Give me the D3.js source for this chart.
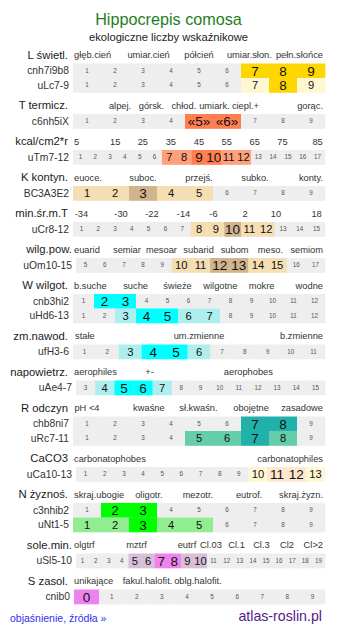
<!DOCTYPE html>
<html>
<head>
<meta charset="utf-8">
<script src="https://cdn.jsdelivr.net/npm/d3@7"></script>
<style>
  html, body { margin: 0; padding: 0; background: #fff; }
  svg { display: block; font-family: "Liberation Sans", Arial, sans-serif; }
</style>
</head>
<body>
<svg id="chart" width="337" height="634"></svg>
<script>
// ---- Species and headings ----
const title = "Hippocrepis comosa";
const subtitle = "ekologiczne liczby wskaźnikowe";
const footerLeft = "objaśnienie, źródła »";
const footerRight = "atlas-roslin.pl";

// ---- Indicator scales: category labels with their position on the value scale ----
const lightLabels = ["głęb.cień", "umiar.cień", "półcień", "umiar.słon.", "pełn.słońce"];
const lightLabelAt = [1, 3.2, 5, 6.8, 9];
const lightRows = [
  { code: "cnh7i9b8", first: 1, last: 9, values: [7, 8, 9], levels: [2, 2, 2] },
  { code: "uLc7-9",   first: 1, last: 9, values: [7, 8, 9], levels: [1, 2, 1] }
];

const thermLabels = ["alpej.", "górsk.", "chłod.", "umiark.", "ciepl.+", "gorąc."];
const thermLabelAt = [2.18, 3.3, 4.46, 5.55, 6.66, 9];
const thermRows = [
  { code: "c6nh5iX", first: 1, last: 9, values: [5, 6], levels: [2, 2], texts: ["«5»", "«6»"] }
];

const kcalLabels = ["5", "15", "25", "35", "45", "55", "65", "75", "85"];
const kcalLabelAt = [0.7, 3.35, 5.21, 7.1, 9.0, 10.87, 12.76, 14.63, 17];
const kcalRows = [
  { code: "uTm7-12", first: 1, last: 17, values: [7, 8, 9, 10, 11, 12], levels: [1, 1, 2, 2, 1, 1] }
];

const contLabels = ["euoce.", "suboc.", "przejś.", "subko.", "konty."];
const contLabelAt = [1, 3, 5, 7, 9];
const contRows = [
  { code: "BC3A3E2", first: 1, last: 9, values: [1, 2, 3, 4, 5], levels: [1, 1, 2, 1, 1] }
];

const minTempLabels = ["-34", "-30", "-22", "-14", "-6", "2", "10", "18"];
const minTempLabelAt = [1, 3.36, 5.2, 7.08, 8.86, 10.74, 12.58, 15];
const minTempRows = [
  { code: "uCr8-12", first: 1, last: 15, values: [8, 9, 10, 11, 12], levels: [1, 1, 2, 1, 1] }
];

const airHumLabels = ["euarid", "semiar", "mesoar", "subarid", "subom", "meso.", "semiom"];
const airHumLabelAt = [5, 7.16, 8.96, 10.9, 12.78, 14.65, 17];
const airHumRows = [
  { code: "uOm10-15", first: 5, last: 17, values: [10, 11, 12, 13, 14, 15], levels: [1, 1, 2, 2, 1, 1] }
];

const moistLabels = ["b.suche", "suche", "świeże", "wilgotne", "mokre", "wodne"];
const moistLabelAt = [1, 3.48, 5.48, 7.52, 9.48, 12];
const moistRows = [
  { code: "cnb3hi2", first: 1, last: 12, values: [2, 3], levels: [2, 2] },
  { code: "uHd6-13", first: 1, last: 12, values: [3, 4, 5, 6, 7], levels: [1, 2, 2, 1, 1] }
];

const varLabels = ["stałe", "um.zmienne", "b.zmienne"];
const varLabelAt = [1.02, 6.0, 11];
const varRows = [
  { code: "ufH3-6", first: 1, last: 11, values: [3, 4, 5, 6], levels: [1, 2, 2, 1] }
];

const aerLabels = ["aerophiles", "+-", "aerophobes"];
const aerLabelAt = [3, 6.34, 11.5];
const aerRows = [
  { code: "uAe4-7", first: 3, last: 15, values: [4, 5, 6, 7], levels: [1, 2, 2, 1] }
];

const phLabels = ["pH <4", "kwaśne", "sł.kwaśn.", "obojętne", "zasadowe"];
const phLabelAt = [1, 3.21, 4.98, 6.86, 9];
const phRows = [
  { code: "chb8ni7", first: 1, last: 9, values: [7, 8], levels: [2, 2] },
  { code: "uRc7-11", first: 1, last: 9, values: [5, 6, 7, 8], levels: [1, 1, 2, 1] }
];

const caLabels = ["carbonatophobes", "carbonatophiles"];
const caLabelAt = [1, 13];
const caRows = [
  { code: "uCa10-13", first: 1, last: 13, values: [10, 11, 12, 13], levels: [1, 2, 2, 1] }
];

const nutLabels = ["skraj.ubogie", "oligotr.", "mezotr.", "eutrof.", "skraj.żyzn."];
const nutLabelAt = [1, 3.21, 4.96, 6.79, 9];
const nutRows = [
  { code: "c3nhib2", first: 1, last: 9, values: [2, 3], levels: [2, 2] },
  { code: "uNt1-5",  first: 1, last: 9, values: [1, 2, 3, 4, 5], levels: [1, 1, 2, 1, 1] }
];

const saltMinLabels = ["olgtrf", "mztrf", "eutrf", "Cl.03", "Cl.1", "Cl.3", "Cl2", "Cl>2"];
const saltMinLabelAt = [1, 5.12, 8.97, 10.8, 12.75, 14.65, 16.6, 19];
const saltMinRows = [
  { code: "uSl5-10", first: 1, last: 19, values: [5, 6, 7, 8, 9, 10], levels: [1, 1, 2, 2, 1, 1] }
];

const salinLabels = ["unikające", "fakul.halofit.", "oblg.halofit."];
const salinLabelAt = [0, 2.43, 4.44];
const salinRows = [
  { code: "cnib0", first: 0, last: 9, values: [0], levels: [2] }
];

// ---- Colour pairs: [strong, weak] ----
const palettes = {
  light:  ["#ffd700", "#fff7d1"],
  therm:  ["#ff7f50", "#ffa07a"],
  cont:   ["#d2b48c", "#f5deb3"],
  water:  ["#00ffff", "#afeeee"],
  ph:     ["#20b2aa", "#66cdaa"],
  ca:     ["#ffe7cf", "#fff6d3"],
  nut:    ["#00ff00", "#90ee90"],
  salt:   ["#ee82ee", "#d8bfd8"]
};

const sections = [
  { name: "L świetl.",   labels: lightLabels,   at: lightLabelAt,   rows: lightRows,   pal: "light" },
  { name: "T termicz.",  labels: thermLabels,   at: thermLabelAt,   rows: thermRows,   pal: "therm" },
  { name: "kcal/cm2*r",  labels: kcalLabels,    at: kcalLabelAt,    rows: kcalRows,    pal: "therm" },
  { name: "K kontyn.",   labels: contLabels,    at: contLabelAt,    rows: contRows,    pal: "cont" },
  { name: "min.śr.m.T",  labels: minTempLabels, at: minTempLabelAt, rows: minTempRows, pal: "cont" },
  { name: "wilg.pow.",   labels: airHumLabels,  at: airHumLabelAt,  rows: airHumRows,  pal: "cont" },
  { name: "W wilgot.",   labels: moistLabels,   at: moistLabelAt,   rows: moistRows,   pal: "water" },
  { name: "zm.nawod.",   labels: varLabels,     at: varLabelAt,     rows: varRows,     pal: "water" },
  { name: "napowietrz.", labels: aerLabels,     at: aerLabelAt,     rows: aerRows,     pal: "water" },
  { name: "R odczyn",    labels: phLabels,      at: phLabelAt,      rows: phRows,      pal: "ph" },
  { name: "CaCO3",       labels: caLabels,      at: caLabelAt,      rows: caRows,      pal: "ca" },
  { name: "N żyznoś.",   labels: nutLabels,     at: nutLabelAt,     rows: nutRows,     pal: "nut" },
  { name: "sole.min.",   labels: saltMinLabels, at: saltMinLabelAt, rows: saltMinRows, pal: "salt" },
  { name: "S zasol.",    labels: salinLabels,   at: salinLabelAt,   rows: salinRows,   pal: "salt" }
];

// ---- Layout ----
const W = 337;
const barRight = 325;
const labelMin = 73, labelMax = 323;
const firstBaseline = 58.5;
const rowGap = 5;            // header baseline to first row
const rowH = 14.5;
const sectionH = 36;         // one-row section height
const gray = "#eeeeee";
const startByCount = { 13: 76, 19: 76, 10: 74 };
const wideHeadings = new Set(["wilg.pow.", "sole.min."]);

const svg = d3.select("#chart");

svg.append("text")
  .attr("x", W / 2).attr("y", 24.5)
  .attr("text-anchor", "middle")
  .attr("font-size", 16.2)
  .attr("fill", "#1e7d1e")
  .text(title);

svg.append("text")
  .attr("x", W / 2).attr("y", 41)
  .attr("text-anchor", "middle")
  .attr("font-size", 11.2)
  .attr("fill", "#222")
  .text(subtitle);

let base = firstBaseline;
sections.forEach(sec => {
  const g = svg.append("g");
  const r0 = sec.rows[0];
  const n0 = r0.last - r0.first + 1;
  const x0 = startByCount[n0] || 73;
  const pos = d3.scaleLinear().domain([r0.first - 0.5, r0.last + 0.5]).range([x0, barRight]);

  // section heading
  g.append("text")
    .attr("x", wideHeadings.has(sec.name) ? 72 : 68).attr("y", base)
    .attr("text-anchor", "end")
    .attr("font-size", 11.3)
    .attr("fill", "#1a1a1a")
    .text(sec.name);

  // category labels, kept inside the bar span
  sec.labels.forEach((lab, i) => {
    const t = g.append("text")
      .attr("y", base - 0.5)
      .attr("font-size", 9.3)
      .attr("fill", "#333")
      .text(lab);
    const w = t.node().getComputedTextLength();
    let left = pos(sec.at[i]) - w / 2;
    left = Math.max(labelMin + 1, Math.min(labelMax - w, left));
    t.attr("x", left);
  });

  sec.rows.forEach((row, ri) => {
    const domain = d3.range(row.first, row.last + 1);
    const xs = d3.scaleBand().domain(domain)
      .range([startByCount[domain.length] || 73, barRight]).padding(0);
    const y = base + rowGap + ri * rowH;
    const pal = palettes[sec.pal];
    const levelOf = v => {
      const k = row.values.indexOf(v);
      return k < 0 ? 0 : row.levels[k];
    };
    const textOf = v => {
      const k = row.values.indexOf(v);
      return (k >= 0 && row.texts) ? row.texts[k] : String(v);
    };

    g.append("text")
      .attr("x", xs.range()[0] - 4).attr("y", y + rowH / 2 + 3.6)
      .attr("text-anchor", "end")
      .attr("font-size", 10.3)
      .attr("fill", "#333")
      .text(row.code);

    const cell = g.selectAll(null).data(domain).enter().append("g");
    cell.append("rect")
      .attr("x", d => xs(d))
      .attr("y", y)
      .attr("width", xs.bandwidth() + 0.3)
      .attr("height", rowH + 0.3)
      .attr("fill", d => {
        const l = levelOf(d);
        return l === 2 ? pal[0] : l === 1 ? pal[1] : gray;
      });
    cell.append("text")
      .attr("x", d => xs(d) + xs.bandwidth() / 2)
      .attr("y", d => {
        const l = levelOf(d);
        return y + rowH / 2 + (l === 2 ? 4.8 : l === 1 ? 4 : 2.2);
      })
      .attr("text-anchor", "middle")
      .attr("font-size", d => {
        const l = levelOf(d);
        return l === 2 ? 13.5 : l === 1 ? 11.2 : 6.3;
      })
      .attr("fill", d => levelOf(d) ? "#111" : "#555")
      .text(d => textOf(d));
  });

  base += sectionH + rowH * (sec.rows.length - 1);
});

svg.append("text")
  .attr("x", 10).attr("y", 622)
  .attr("font-size", 10.5)
  .attr("fill", "#3030f0")
  .text(footerLeft);

svg.append("text")
  .attr("x", 322).attr("y", 621)
  .attr("text-anchor", "end")
  .attr("font-size", 14.2)
  .attr("fill", "#551a8b")
  .text(footerRight);
</script>
</body>
</html>
